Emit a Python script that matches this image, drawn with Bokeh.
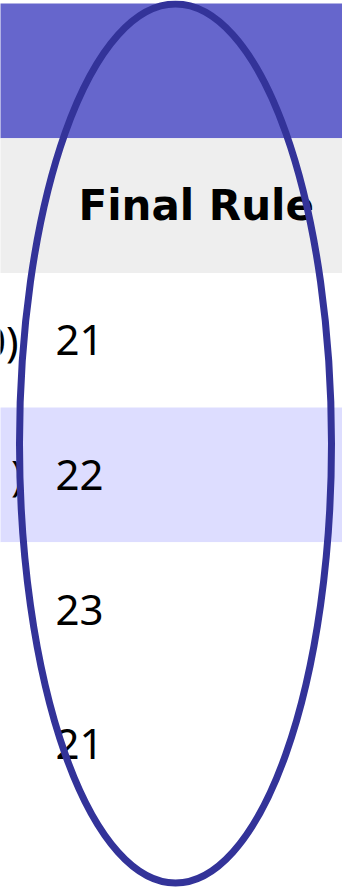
from bokeh.plotting import figure
from bokeh.models import Range1d, ColumnDataSource
from bokeh.core.properties import value
from bokeh.embed import file_html
from bokeh.resources import INLINE

# ---- data ----
header_label = "Final Rule"
final_rule_values = ["21", "22", "23", "21"]
prev_col_fragments = ["0)", ")", "", ""]          # clipped text of the column to the left
band_colors = ["#6666CC", "#EEEEEE", "#FFFFFF", "#DDDDFF", "#FFFFFF", "#FFFFFF", "#FFFFFF"]

# ---- layout (reference pixel space) ----
W, H = 342, 889
ROW_H = 134.7
TOP0 = 3.0

p = figure(width=W, height=H, output_backend="svg", toolbar_location=None,
           x_axis_location=None, y_axis_location=None, min_border=0,
           x_range=Range1d(0, W), y_range=Range1d(H, 0),
           background_fill_color="white", border_fill_color="white")
p.grid.visible = False
p.outline_line_color = None

n = len(band_colors)
tops = [TOP0 + i * ROW_H for i in range(n)]
bots = [t + ROW_H for t in tops]
p.quad(left=[-10] * n, right=[W + 10] * n, top=tops, bottom=bots,
       fill_color=band_colors, line_color=None)

# header text
hdr_base = tops[1] + ROW_H / 2
p.text(x=[78], y=[hdr_base], text=[header_label], text_font=value("DejaVu Sans"),
       text_font_style="bold", text_font_size="42px", text_color="black",
       text_baseline="alphabetic", text_align="left")

# values
ys = [tops[2 + i] + ROW_H / 2 for i in range(len(final_rule_values))]
src = ColumnDataSource(dict(x=[55] * len(ys), y=ys, t=final_rule_values))
p.text(x="x", y="y", text="t", source=src, text_font=value("Noto Sans"),
       text_font_size="42px", text_color="black",
       text_baseline="alphabetic", text_align="left")

# clipped fragments of previous column
src2 = ColumnDataSource(dict(x=[18, 23, 23, 23], y=ys, t=prev_col_fragments))
p.text(x="x", y="y", text="t", source=src2, text_font=value("Noto Sans"),
       text_font_size="42px", text_color="black",
       text_baseline="alphabetic", text_align="right")

# highlight ellipse
p.ellipse(x=[175], y=[443], width=[312], height=[879], fill_color=None,
          line_color="#333399", line_width=7)

open("out.html", "w").write(file_html(p, INLINE))
